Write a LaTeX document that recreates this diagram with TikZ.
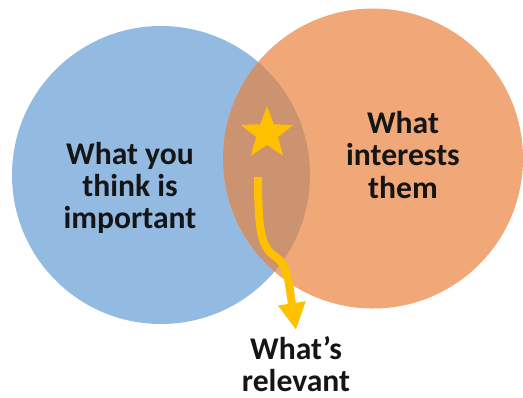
\documentclass[tikz,border=0pt]{standalone}
\usepackage{fontspec}
\setmainfont{Carlito}
\usepackage{tikz}
\usetikzlibrary{arrows.meta,shapes.geometric}
\definecolor{vennblue}{HTML}{93BBE2}
\definecolor{vennorange}{HTML}{F1A878}
\definecolor{vennmix}{HTML}{CC9371}
\definecolor{goldstar}{HTML}{FFC000}
\definecolor{inkdark}{HTML}{151515}

\begin{document}
\begin{tikzpicture}[x=0.02cm,y=-0.02cm,
  lbl/.style={align=center,text=inkdark,font=\bfseries\fontsize{18}{18.3}\selectfont,inner sep=0pt}]
\useasboundingbox (0,0) rectangle (523,397);
\fill[vennblue] (161,175) circle (149);
\fill[vennorange] (373,158.5) circle (150);
\begin{scope}
\clip (161,175) circle (149);
\fill[vennmix] (373,158.5) circle (150);
\end{scope}
\node[lbl] (mine) at (130,188) {What you\\think is\\important};
\node[lbl] (theirs) at (403,155) {What\\interests\\them};
\node[lbl] (rel) at (296,364) {What’s\\relevant};
\node[star,star points=5,star point ratio=2.4,fill=goldstar,minimum size=1.1cm,inner sep=0pt] (spark) at (267,133.5) {};
\coordinate (from) at (258,177);
\coordinate (to) at (296,330);
\draw[goldstar,line width=0.16cm,-{Triangle[length=0.54cm,width=0.52cm]}] (from) .. controls (258,235) and (262,248) .. (276,257) .. controls (288,265) and (289,285) .. (to);
\end{tikzpicture}
\end{document}
